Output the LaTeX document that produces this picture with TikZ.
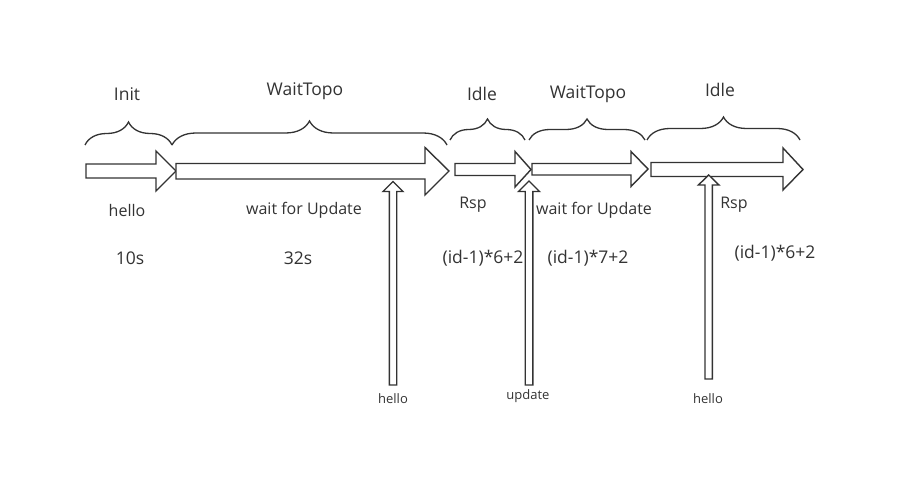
\documentclass[tikz,border=0pt]{standalone}
\usepackage{fontspec}
\setmainfont{Open Sans}
\usetikzlibrary{decorations.pathreplacing}
\definecolor{ink}{HTML}{333333}
\begin{document}
\begin{tikzpicture}[x=1pt,y=-1pt,
  blk/.style={draw=ink, fill=white, line width=1.4pt, line join=miter},
  brc/.style={draw=ink, line width=1.3pt, decorate, decoration={brace, amplitude=#1}},
  ttl/.style={text=ink, font=\fontsize{17.5}{19}\selectfont, inner sep=0pt},
  lbl/.style={text=ink, font=\fontsize{16}{18}\selectfont, inner sep=0pt},
  sml/.style={text=ink, font=\fontsize{13}{15}\selectfont, inner sep=0pt}]
\path[fill=white, use as bounding box] (0,0) rectangle (917,481);

% horizontal block arrows
\draw[blk] (86,164) -- (156,164) -- (156,151) -- (176,171) -- (156,191) -- (156,178) -- (86,178) -- cycle;
\draw[blk] (176,163.5) -- (425,163.5) -- (425,147.5) -- (449,171) -- (425,195) -- (425,179) -- (176,179) -- cycle;
\draw[blk] (455,163.5) -- (515,163.5) -- (515,151.5) -- (531,169.5) -- (515,187) -- (515,175.5) -- (455,175.5) -- cycle;
\draw[blk] (532,163.5) -- (631,163.5) -- (631,151.5) -- (648,169) -- (631,186.5) -- (631,175) -- (532,175) -- cycle;
\draw[blk] (651,162.5) -- (783,162.5) -- (783,148) -- (803,169.5) -- (783,190) -- (783,176.5) -- (651,176.5) -- cycle;

% vertical block arrows
\draw[blk] (389.3,385) -- (389.3,191.5) -- (383,191.5) -- (393,181.5) -- (403,191.5) -- (396.7,191.5) -- (396.7,385) -- cycle;
\draw[blk] (525.2,385) -- (525.2,191.5) -- (518.5,191.5) -- (529,181) -- (539.5,191.5) -- (532.8,191.5) -- (532.8,385) -- cycle;
\draw[blk] (705,379) -- (705,185) -- (698.4,185) -- (708.7,175) -- (719,185) -- (712.4,185) -- (712.4,379) -- cycle;

% braces
\coordinate (b1a) at (85,145);  \coordinate (b1b) at (172,145);
\coordinate (b2a) at (172,145); \coordinate (b2b) at (447,145);
\coordinate (b3a) at (450,140); \coordinate (b3b) at (525,140);
\coordinate (b4a) at (529,140); \coordinate (b4b) at (645,140);
\coordinate (b5a) at (647,140); \coordinate (b5b) at (800,140);
\draw[brc=23pt] (b1a) -- (b1b);
\draw[brc=24pt] (b2a) -- (b2b);
\draw[brc=21pt] (b3a) -- (b3b);
\draw[brc=21pt] (b4a) -- (b4b);
\draw[brc=23pt] (b5a) -- (b5b);

% state titles
\node[ttl] (t1) at (127,94) {Init};
\node[ttl] (t2) at (305,91) {WaitTopo};
\node[ttl] (t3) at (482,94) {Idle};
\node[ttl] (t4) at (588,94) {WaitTopo};
\node[ttl] (t5) at (720,90) {Idle};

% labels under arrows
\node[lbl] (l1) at (127,210) {hello};
\node[lbl] (l2) at (304,210) {wait for Update};
\node[lbl] (l3) at (473,205) {Rsp};
\node[lbl] (l4) at (594,210) {wait for Update};
\node[lbl] (l5) at (734,205) {Rsp};

\node[ttl] (d1) at (130,258) {10s};
\node[ttl] (d2) at (298,258) {32s};
\node[ttl] (d3) at (483,258) {(id-1)*6+2};
\node[ttl] (d4) at (588,258) {(id-1)*7+2};
\node[ttl] (d5) at (775,253) {(id-1)*6+2};

% input labels
\node[sml] (i1) at (393,399) {hello};
\node[sml] (i2) at (528,396) {update};
\node[sml] (i3) at (708,399) {hello};
\end{tikzpicture}
\end{document}
